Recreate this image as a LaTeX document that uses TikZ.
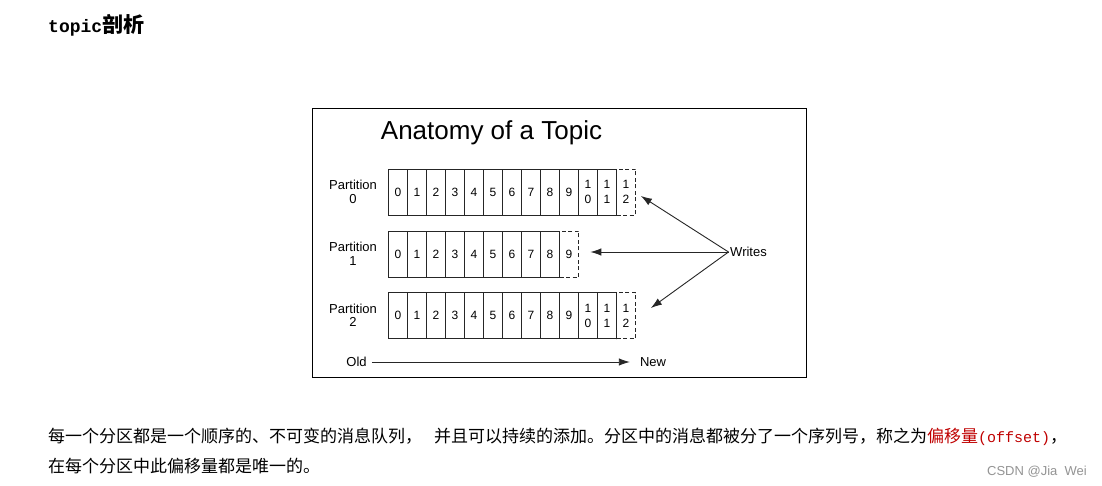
\documentclass[tikz,border=0pt]{standalone}
\usepackage{fontspec}
\setmainfont{Liberation Sans}
\newfontfamily\cjk{Noto Sans CJK SC}
\newfontfamily\mono{Liberation Mono}
\usetikzlibrary{arrows.meta,positioning,calc}
\definecolor{offred}{RGB}{192,0,0}
\newcommand\stk[1]{\ifnum#1>9 1\\\the\numexpr#1-10\relax\else#1\fi}

\begin{document}
\begin{tikzpicture}[x=1pt,y=-1pt,
  every node/.style={font=\fontsize{13}{13.5}\selectfont,inner sep=0pt},
  cell/.style={draw=black!85,line width=0.8pt,minimum width=19pt,minimum height=46pt,align=center,font=\fontsize{12}{15}\selectfont},
  nxt/.style={cell,dash pattern=on 4pt off 2.5pt},
  lbl/.style={align=center},
  ar/.style={-{Latex[length=11pt,width=7.5pt]},line width=0.9pt,draw=black!85}]
\path[use as bounding box,fill=white] (0,0) rectangle (1102,486);
\node[anchor=base west,font=\fontsize{18}{20}\selectfont\bfseries] (head) at (48,33) {\mono topic{\cjk\fontsize{21}{22}\selectfont 剖析}};
\draw[line width=0.9pt] (312.5,108) rectangle (806.5,377.5);
\node[anchor=base,font=\fontsize{26}{28}\selectfont] (title) at (491.5,140) {Anatomy of a Topic};
\foreach \r/\last/\y in {0/12/192,1/9/254,2/12/315.5}{
  \pgfmathtruncatemacro\m{\last-1}
  \foreach \i in {0,...,\m}
    \node[cell] (c\r-\i) at (398+19*\i,\y) {\stk{\i}};
  \node[nxt] (c\r-\last) at (398+19*\last,\y) {\stk{\last}};
  \node[lbl,left=11pt of c\r-0] (p\r) {Partition\\\r};
}
\node[inner sep=1.5pt] (wr) at (748.5,252) {Writes};
\coordinate (w0) at ($(c0-12.east)+(5,4)$);
\coordinate (w1) at ($(c1-9.east)+(11.5,-2)$);
\coordinate (w2) at ($(c2-12.east)+(15,-7.5)$);
\draw[ar] (wr.west) -- (w0);
\draw[ar] (wr.west) -- (w1);
\draw[ar] (wr.west) -- (w2);
\node (old) at (356.5,362) {Old};
\node (new) at (653,362) {New};
\draw[ar,shorten <=5pt,shorten >=10pt] (old) -- (new);
\node[anchor=base west] (l1) at (48,442) {\cjk\fontsize{17}{18}\selectfont 每一个分区都是一个顺序的、不可变的消息队列，\hspace{12pt}并且可以持续的添加。分区中的消息都被分了一个序列号，称之为\textcolor{offred}{偏移量{\mono\fontsize{15}{16}\selectfont(offset)}}，};
\node[anchor=base west] (l2) at (48,472) {\cjk\fontsize{17}{18}\selectfont 在每个分区中此偏移量都是唯一的。};
\node[anchor=base east,text=black!42] (wm) at (1087,475) {CSDN @Jia\ \ Wei};
\end{tikzpicture}
\end{document}
